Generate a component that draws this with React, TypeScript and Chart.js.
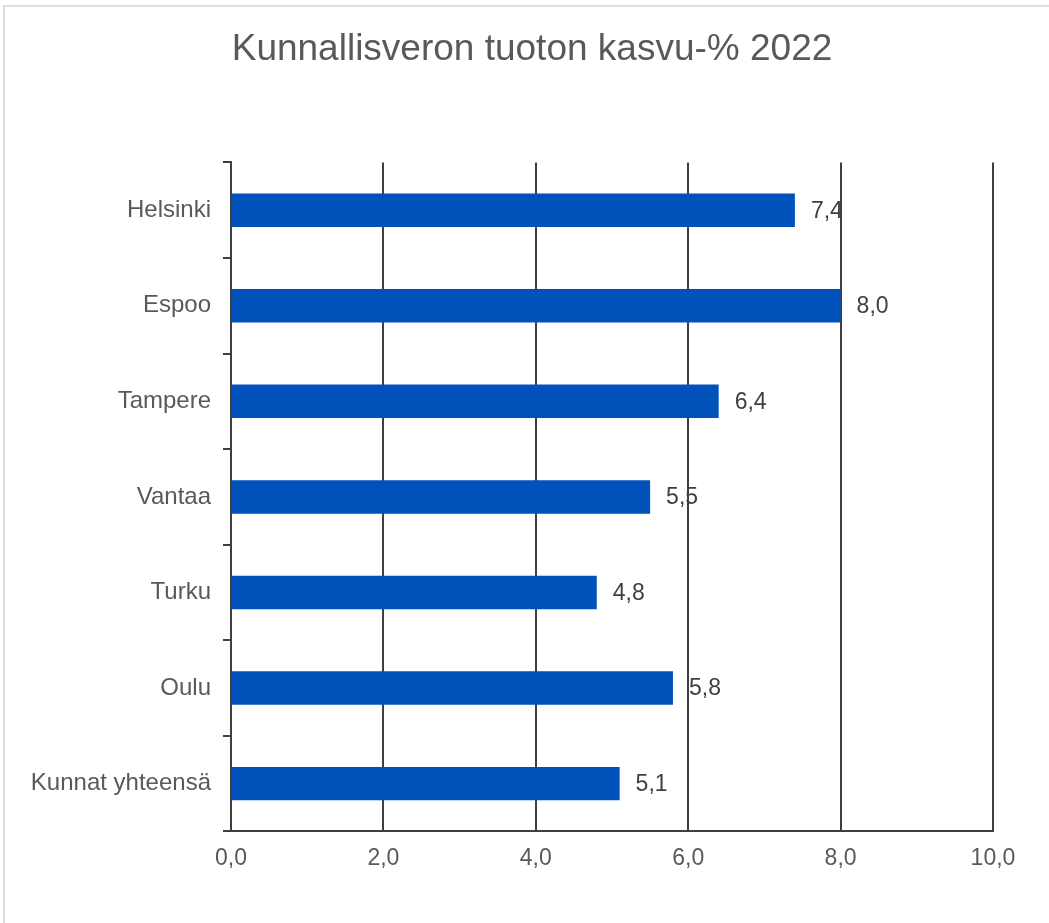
import React, { useEffect, useRef } from "react";
import { Chart, registerables } from "chart.js";

Chart.register(...registerables);

const categories = ["Helsinki", "Espoo", "Tampere", "Vantaa", "Turku", "Oulu", "Kunnat yhteensä"];
const growthValues = [7.4, 8.0, 6.4, 5.5, 4.8, 5.8, 5.1];
const xTickValues = [0, 2, 4, 6, 8, 10];
const titleText = "Kunnallisveron tuoton kasvu-% 2022";

const FONT = "'Liberation Sans', Arial, sans-serif";
const fmt = (v: number) => v.toFixed(1).replace(".", ",");

const valueLabels = {
  id: "valueLabels",
  afterLayout(chart: any) {
    if (chart.titleBlock) {
      chart.titleBlock.left = 71;
    }
  },
  afterDatasetsDraw(chart: any) {
    const ctx = chart.ctx;
    const meta = chart.getDatasetMeta(0);
    ctx.save();
    ctx.font = `23px ${FONT}`;
    ctx.fillStyle = "#404040";
    ctx.textAlign = "left";
    ctx.textBaseline = "middle";
    meta.data.forEach((bar: any, i: number) => {
      const v = chart.data.datasets[0].data[i] as number;
      ctx.fillText(fmt(v), bar.x + 16, bar.y + 1);
    });
    ctx.restore();
  },
};

export default function App() {
  const ref = useRef<HTMLCanvasElement | null>(null);
  useEffect(() => {
    if (!ref.current) return;
    const chart = new Chart(ref.current, {
      type: "bar",
      data: {
        labels: categories,
        datasets: [
          {
            data: growthValues,
            backgroundColor: "#0051BA",
            barPercentage: 0.35,
            categoryPercentage: 1,
          },
        ],
      },
      options: {
        indexAxis: "y",
        animation: false,
        responsive: false,
        maintainAspectRatio: false,
        layout: { padding: { left: 12, right: 56, top: 0, bottom: 38 } },
        plugins: {
          legend: { display: false },
          tooltip: { enabled: false },
          title: {
            display: true,
            text: titleText,
            color: "#595959",
            font: { family: FONT, size: 37, weight: "normal" },
            padding: { top: 28, bottom: 90 },
          },
        },
        scales: {
          x: {
            min: 0,
            max: 10,
            afterBuildTicks: (scale: any) => {
              scale.ticks = xTickValues.map((v) => ({ value: v }));
            },
            ticks: {
              color: "#595959",
              font: { family: FONT, size: 23 },
              padding: 13,
              callback: (v: any) => fmt(Number(v)),
            },
            grid: { color: "#404040", lineWidth: 2, drawTicks: false },
            border: { display: true, color: "#404040", width: 2 },
          },
          y: {
            afterFit: (scale: any) => {
              scale.width = 219;
            },
            ticks: {
              color: "#595959",
              font: { family: FONT, size: 24 },
              padding: 12,
            },
            grid: {
              offset: true,
              drawOnChartArea: false,
              drawTicks: true,
              tickLength: 8,
              color: "#404040",
              lineWidth: 2,
            },
            border: { display: true, color: "#404040", width: 2 },
          },
        },
      },
      plugins: [valueLabels],
    } as any);
    return () => chart.destroy();
  }, []);

  return (
    <div style={{ position: "absolute", left: 0, top: 0, width: 1049, height: 923, background: "#fff" }}>
      <div
        style={{
          position: "absolute",
          left: 3,
          top: 5,
          width: 1060,
          height: 940,
          borderTop: "2px solid #D9DFE7",
          borderLeft: "2px solid #D9DFE7",
          boxSizing: "border-box",
        }}
      />
      <canvas ref={ref} width={1049} height={923} style={{ position: "absolute", left: 0, top: 0 }} />
    </div>
  );
}
